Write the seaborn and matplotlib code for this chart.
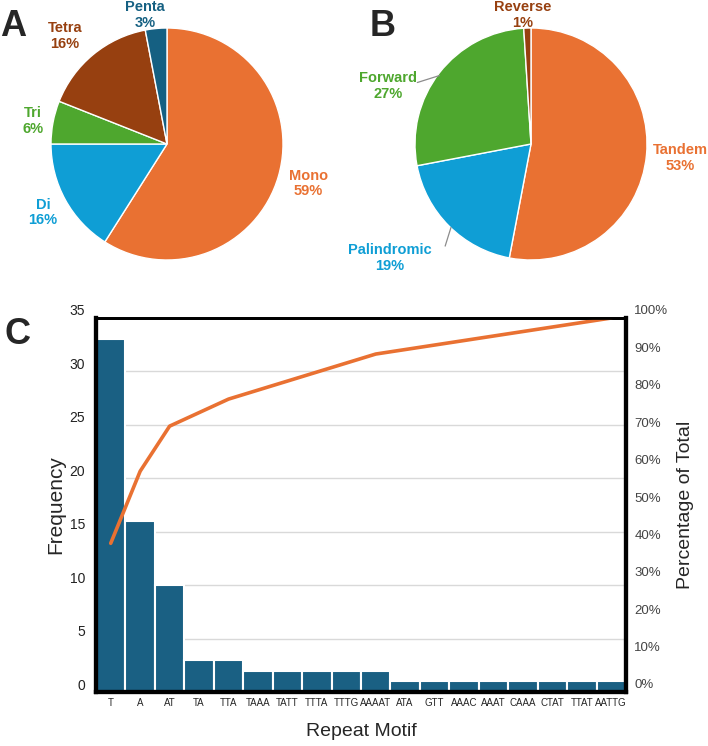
import numpy as np
import pandas as pd
import matplotlib
matplotlib.use("Agg")
import matplotlib.pyplot as plt
from matplotlib.transforms import ScaledTranslation
import seaborn as sns

# ---------------- data ----------------
pieA_labels = ["Mono", "Di", "Tri", "Tetra", "Penta"]
pieA_values = [59, 16, 6, 16, 3]

pieB_labels = ["Tandem", "Palindromic", "Forward", "Reverse"]
pieB_values = [53, 19, 27, 1]

motifs = ["T", "A", "AT", "TA", "TTA", "TAAA", "TATT", "TTTA", "TTTG", "AAAAT",
          "ATA", "GTT", "AAAC", "AAAT", "CAAA", "CTAT", "TTAT", "AATTG"]
freqs = [33, 16, 10, 3, 3, 2, 2, 2, 2, 2, 1, 1, 1, 1, 1, 1, 1, 1]

freq_ticks = [0, 5, 10, 15, 20, 25, 30, 35]
pct_ticks = [0, 10, 20, 30, 40, 50, 60, 70, 80, 90, 100]

# ---------------- style ----------------
sns.set_style("white")
plt.rcParams["font.family"] = ["Liberation Sans", "DejaVu Sans"]

ORANGE = "#E97132"
BLUE = "#0F9ED5"
GREEN = "#4EA72E"
BROWN = "#974010"
DARKBLUE = "#156082"
BAR = "#1A6083"

W, H = 708, 746
fig = plt.figure(figsize=(W / 100, H / 100), dpi=100)


def px_axes(cx, cy, r):
    return fig.add_axes([(cx - r) / W, 1 - (cy + r) / H, 2 * r / W, 2 * r / H])


# ---------------- Pie A ----------------
axA = px_axes(167, 144, 116)
colorsA = [ORANGE, BLUE, GREEN, BROWN, DARKBLUE]
axA.pie(pieA_values, colors=colorsA, startangle=90, counterclock=False, radius=1)
axA.set_xlim(-1, 1)
axA.set_ylim(-1, 1)
axA.set_aspect("equal")
axA.axis("off")
posA = {"Mono": (1.22, -0.34), "Di": (-1.07, -0.59), "Tri": (-1.155, 0.2),
        "Tetra": (-0.88, 0.93), "Penta": (-0.19, 1.11)}
for lab, val, col in zip(pieA_labels, pieA_values, colorsA):
    x, y = posA[lab]
    axA.text(x, y, f"{lab}\n{val}%", color=col, fontsize=10.5, fontweight="bold",
             ha="center", va="center", linespacing=1.15, clip_on=False)

# ---------------- Pie B ----------------
axB = px_axes(531, 144, 116)
colorsB = [ORANGE, BLUE, GREEN, BROWN]
axB.pie(pieB_values, colors=colorsB, startangle=90, counterclock=False, radius=1)
axB.set_xlim(-1, 1)
axB.set_ylim(-1, 1)
axB.set_aspect("equal")
axB.axis("off")
posB = {"Tandem": (1.29, -0.12), "Palindromic": (-1.22, -0.98),
        "Forward": (-1.23, 0.5), "Reverse": (-0.07, 1.11)}
for lab, val, col in zip(pieB_labels, pieB_values, colorsB):
    x, y = posB[lab]
    axB.text(x, y, f"{lab}\n{val}%", color=col, fontsize=10.5, fontweight="bold",
             ha="center", va="center", linespacing=1.15, clip_on=False)
axB.plot([-0.98, -0.79], [0.53, 0.59], color="#8c8c8c", lw=0.9, clip_on=False)
axB.plot([-0.74, -0.69], [-0.88, -0.72], color="#8c8c8c", lw=0.9, clip_on=False)

# ---------------- Bar / Pareto chart ----------------
ax = fig.add_axes([96 / W, 1 - 692 / H, 530 / W, 374 / H])
df = pd.DataFrame({"motif": motifs, "freq": freqs})
sns.barplot(data=df, x="motif", y="freq", color=BAR, width=1, edgecolor="white",
            linewidth=1.5, saturation=1, ax=ax)
ax.set_ylim(0, 35)
ax.set_yticks(freq_ticks)
ax.set_axisbelow(True)
ax.yaxis.grid(True, color="#d9d9d9", lw=1)
ax.xaxis.grid(False)
ax.set_xlabel("Repeat Motif", fontsize=14, labelpad=11)
ax.set_ylabel("Frequency", fontsize=15, labelpad=3)
ax.tick_params(axis="x", labelsize=7, length=0, pad=4)
ax.tick_params(axis="y", labelsize=10, length=0, pad=8, labelcolor="#222222")

cum = np.cumsum(freqs) / np.sum(freqs) * 100
ax2 = ax.twinx()
sns.lineplot(x=np.arange(len(motifs)), y=cum, color=ORANGE, lw=2.6, ax=ax2)
ax2.set_ylim(0, 100)
ax2.set_yticks(pct_ticks)
ax2.set_yticklabels([f"{t}%" for t in pct_ticks])
ax2.tick_params(axis="y", labelsize=9.5, length=0, pad=6, labelcolor="#444444")
ax2.set_ylabel("Percentage of Total", fontsize=14, labelpad=6)
ax2.grid(False)
ax.set_xlim(-0.5, len(motifs) - 0.5)

for a in (ax, ax2):
    for s in ("left", "bottom", "right"):
        a.spines[s].set_linewidth(3)
        a.spines[s].set_color("black")
    a.spines["top"].set_linewidth(2)
    a.spines["top"].set_color("black")

shift = ScaledTranslation(0, 8 / 100, fig.dpi_scale_trans)
for lbl in ax.get_yticklabels() + ax2.get_yticklabels():
    lbl.set_transform(lbl.get_transform() + shift)

# ---------------- panel letters ----------------
fig.text(0 / W, 1 - 26 / H, "A", fontsize=26, fontweight="bold", va="center", ha="left")
fig.text(370 / W, 1 - 26 / H, "B", fontsize=26, fontweight="bold", va="center", ha="left")
fig.text(4 / W, 1 - 334 / H, "C", fontsize=26, fontweight="bold", va="center", ha="left")

fig.savefig("out.png", dpi=100)
